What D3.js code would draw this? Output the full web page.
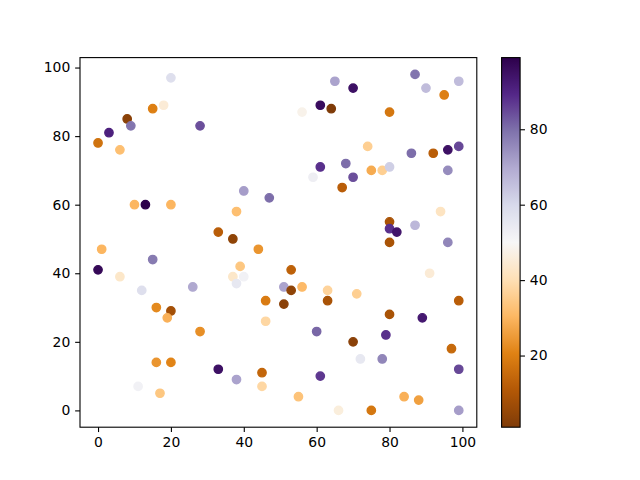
<!DOCTYPE html>
<html>
<head>
<meta charset="utf-8">
<script src="https://cdn.jsdelivr.net/npm/d3@7"></script>
<style>
body{margin:0;background:#fff;}
text{font-family:"DejaVu Sans",sans-serif;}
</style>
</head>
<body>
<svg id="chart" width="640" height="480"></svg>
<script>
const xs=[20,18,15,8,9,3,0,6,28,40,47,10,13,20,38,33,37,1,44,15,0,6,39,37,40,38,12,26,46,16,20,19,46,28,16,20,33,38,45,45,11,17,65,70,87,90,99,95,61,64,56,80,74,86,92,96,99,61,68,70,59,75,78,80,96,67,94,87,80,80,82,80,96,53,51,53,56,51,63,63,71,91,99,80,89,60,79,70,97,72,78,99,61,55,84,88,66,75,99];
const ys=[97,89,88,85,83,81,78,76,83,64,62,60,60,60,58,52,50,47,47,44,41,39,42,39,39,37,35,36,32,30,29,27,26,23,14,14,12,9,11,7,7,5,96,94,98,94,96,92,89,88,87,87,77,75,75,76,77,71,72,68,68,70,70,71,70,65,58,54,55,53,52,49,49,41,36,35,36,31,35,32,34,40,32,28,27,23,22,20,18,15,15,12,10,4,4,3,0,0,0];
const cs=[58,45,20,3,79,91,17,32,84,72,80,30,99,30,32,12,4,30,24,78,97,43,34,43,52,55,58,70,19,22,8,29,38,23,24,21,95,71,14,38,52,34,71,95,79,66,66,20,96,1,48,18,36,80,12,95,85,88,80,84,53,28,36,62,75,12,42,67,9,88,94,9,76,13,71,4,31,3,37,9,36,45,12,9,93,81,88,3,15,55,76,85,87,33,29,26,46,18,72];
const xTicks=[0,20,40,60,80,100];
const yTicks=[0,20,40,60,80,100];
const cTicks=[20,40,60,80];
const puorColors=["#7f3b08","#b35806","#e08214","#fdb863","#fee0b6","#f7f7f7","#d8daeb","#b2abd2","#8073ac","#542788","#2d004b"];

const svg=d3.select("#chart");
const L=80,R=476.8,T=57.6,B=427.2;
const cbL=501.6,cbW=18.5;

function padExt(a){const e=d3.extent(a);const m=(e[1]-e[0])*0.05;return [e[0]-m,e[1]+m];}
const x=d3.scaleLinear().domain(padExt(xs)).range([L,R]);
const y=d3.scaleLinear().domain(padExt(ys)).range([B,T]);
const cExt=d3.extent(cs);
const cmapT=d3.scaleLinear().domain(d3.range(11).map(i=>i/10)).range(puorColors).interpolate(d3.interpolateRgb).clamp(true);
const cNorm=d3.scaleLinear().domain(cExt).range([0,1]);
const color=v=>cmapT(cNorm(v));

// points
const data=xs.map((d,i)=>({x:d,y:ys[i],c:cs[i]}));
const g=svg.append("g");
g.selectAll("circle").data(data).enter().append("circle")
 .attr("cx",d=>x(d.x)).attr("cy",d=>y(d.y)).attr("r",4.17)
 .attr("fill",d=>color(d.c)).attr("stroke",d=>color(d.c)).attr("stroke-width",1.39);

// axes
const fs="13.9px";
const xa=svg.append("g").attr("transform",`translate(0,${B})`)
 .call(d3.axisBottom(x).tickValues(xTicks).tickSize(4.86).tickPadding(4.86).tickFormat(d3.format("d")));
const ya=svg.append("g").attr("transform",`translate(${L},0)`)
 .call(d3.axisLeft(y).tickValues(yTicks).tickSize(4.86).tickPadding(4.86).tickFormat(d3.format("d")));
[xa,ya].forEach(a=>{a.select(".domain").remove();a.selectAll("line").attr("stroke","#000").attr("stroke-width",1.1);
 a.selectAll("text").attr("font-size",fs).attr("fill","#000").attr("font-family","DejaVu Sans, sans-serif");});
svg.append("rect").attr("x",L).attr("y",T).attr("width",R-L).attr("height",B-T)
 .attr("fill","none").attr("stroke","#000").attr("stroke-width",1.1);

// colorbar
const cy=d3.scaleLinear().domain(cExt).range([B,T]);
const defs=svg.append("defs");
const grad=defs.append("linearGradient").attr("id","cbg").attr("x1","0").attr("y1","1").attr("x2","0").attr("y2","0");
d3.range(0,1.0001,0.02).forEach(t=>grad.append("stop").attr("offset",t).attr("stop-color",cmapT(t)));
svg.append("rect").attr("x",cbL).attr("y",T).attr("width",cbW).attr("height",B-T).attr("fill","url(#cbg)");
svg.append("rect").attr("x",cbL).attr("y",T).attr("width",cbW).attr("height",B-T)
 .attr("fill","none").attr("stroke","#000").attr("stroke-width",1.1);
const ca=svg.append("g").attr("transform",`translate(${cbL+cbW},0)`)
 .call(d3.axisRight(cy).tickValues(cTicks).tickSize(4.86).tickPadding(4.86).tickFormat(d3.format("d")));
ca.select(".domain").remove();
ca.selectAll("line").attr("stroke","#000").attr("stroke-width",1.1);
ca.selectAll("text").attr("font-size",fs).attr("fill","#000").attr("font-family","DejaVu Sans, sans-serif");
</script>
</body>
</html>
